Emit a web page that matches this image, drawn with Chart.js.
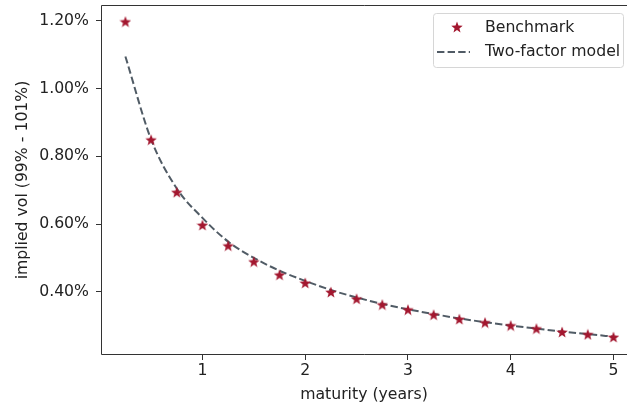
<!DOCTYPE html>
<html>
<head>
<meta charset="utf-8">
<script src="https://cdn.jsdelivr.net/npm/chart.js@4.4.1/dist/chart.umd.min.js"></script>
<style>
    html, body { margin: 0; padding: 0; background: #fff; overflow: hidden; }
    canvas { display: block; }
</style>
</head>
<body>
<canvas id="myChart" width="627" height="407"></canvas>
<script>
// datos (vol en %)
const maturities = [0.25, 0.5, 0.75, 1.0, 1.25, 1.5, 1.75, 2.0, 2.25, 2.5, 2.75, 3.0, 3.25, 3.5, 3.75, 4.0, 4.25, 4.5, 4.75, 5.0];
const benchmark = [1.198, 0.849, 0.694, 0.597, 0.536, 0.489, 0.450, 0.426, 0.399, 0.379, 0.362, 0.347, 0.332, 0.319, 0.309, 0.300, 0.291, 0.281, 0.274, 0.266];
const twoFactor = [1.095, 0.850, 0.705, 0.618, 0.548, 0.500, 0.462, 0.432, 0.405, 0.383, 0.364, 0.348, 0.334, 0.321, 0.310, 0.300, 0.291, 0.282, 0.275, 0.267];
const xTicks = [1, 2, 3, 4, 5];
const yTicks = [0.4, 0.6, 0.8, 1.0, 1.2];
const seriesLabels = ['Benchmark', 'Two-factor model'];

const starColor = '#a3172f';
const lineColor = 'rgba(36, 50, 62, 0.8)';
const fuente = 'DejaVu Sans';
const tam = 15.7;

// estrella rellena como en matplotlib
function hacerEstrella(size){
    const c = document.createElement('canvas');
    c.width = size; c.height = size;
    const g = c.getContext('2d');
    const cx = size / 2, cy = size / 2 + 0.6;
    const R = size / 2, r = R * 0.42;
    g.beginPath();
    for (let i = 0; i < 10; i++) {
        const rad = (i % 2 === 0) ? R : r;
        const a = -Math.PI / 2 + i * Math.PI / 5;
        const px = cx + rad * Math.cos(a), py = cy + rad * Math.sin(a);
        if (i === 0) g.moveTo(px, py); else g.lineTo(px, py);
    }
    g.closePath();
    g.fillStyle = starColor;
    g.fill();
    return c;
}
const estrella = hacerEstrella(12);

// ejes: arriba, izquierda, abajo (la derecha queda fuera del recorte)
const marco = {
    id: 'marco',
    afterDatasetsDraw(chart){
        const a = chart.chartArea, ctx = chart.ctx;
        ctx.save();
        ctx.strokeStyle = '#333';
        ctx.lineWidth = 1;
        ctx.beginPath();
        ctx.moveTo(chart.width, a.top + 0.5);
        ctx.lineTo(a.left + 0.5, a.top + 0.5);
        ctx.lineTo(a.left + 0.5, a.bottom - 0.5);
        ctx.lineTo(chart.width, a.bottom - 0.5);
        ctx.stroke();
        ctx.restore();
    }
};

const leyenda = {
    id: 'leyenda',
    afterDraw(chart){
        const ctx = chart.ctx;
        const x0 = 433.5, y0 = 13.5, w = 190, h = 54;
        ctx.save();
        ctx.beginPath();
        ctx.roundRect(x0, y0, w, h, 3);
        ctx.fillStyle = 'rgba(255,255,255,0.8)';
        ctx.fill();
        ctx.strokeStyle = '#d6d6d6';
        ctx.lineWidth = 1;
        ctx.stroke();
        ctx.drawImage(estrella, 457 - 6, 27 - 6);
        ctx.beginPath();
        ctx.setLineDash([7.4, 3.2]);
        ctx.strokeStyle = lineColor;
        ctx.lineWidth = 2;
        ctx.moveTo(437, 52);
        ctx.lineTo(470, 52);
        ctx.stroke();
        ctx.setLineDash([]);
        ctx.fillStyle = '#222';
        ctx.font = tam + 'px "' + fuente + '"';
        ctx.textBaseline = 'middle';
        ctx.fillText(chart.data.datasets[0].label, 485, 28);
        ctx.fillText(chart.data.datasets[1].label, 485, 52);
        ctx.restore();
    }
};

const ctx = document.getElementById('myChart').getContext('2d');
const myChart = new Chart(ctx, {
    type: 'line',
    data: {
        datasets: [{
            label: seriesLabels[0],
            data: maturities.map((m, i) => ({x: m, y: benchmark[i]})),
            showLine: false,
            pointStyle: estrella,
            pointRadius: 6,
            backgroundColor: starColor,
            borderColor: starColor,
            order: 0
        }, {
            label: seriesLabels[1],
            data: maturities.map((m, i) => ({x: m, y: twoFactor[i]})),
            borderColor: lineColor,
            borderWidth: 2,
            borderDash: [7.4, 3.2],
            pointRadius: 0,
            cubicInterpolationMode: 'monotone',
            fill: false,
            order: 1
        }]
    },
    options: {
        responsive: false,
        animation: false,
        layout: { autoPadding: false, padding: { left: 0, top: 5, right: 0, bottom: 0 } },
        plugins: { legend: { display: false }, tooltip: { enabled: false } },
        scales: {
            x: {
                type: 'linear',
                min: 0.0125,
                max: 5.1317,
                border: { display: false },
                grid: { drawOnChartArea: false, drawTicks: true, tickLength: 5, color: '#333' },
                afterBuildTicks: (axis) => { axis.ticks = xTicks.map(v => ({value: v})); },
                afterFit: (axis) => { axis.height = 52; axis.paddingLeft = 0; axis.paddingRight = 0; },
                ticks: {
                    color: '#222', padding: 2,
                    font: { family: fuente, size: tam },
                    maxRotation: 0,
                    callback: (v) => String(v)
                },
                title: {
                    display: true, text: 'maturity (years)', color: '#222',
                    font: { family: fuente, size: tam },
                    padding: { top: 0, bottom: 2.5 }
                }
            },
            y: {
                type: 'linear',
                min: 0.213,
                max: 1.247,
                border: { display: false },
                grid: { drawOnChartArea: false, drawTicks: true, tickLength: 5, color: '#333' },
                afterBuildTicks: (axis) => { axis.ticks = yTicks.map(v => ({value: v})); },
                afterFit: (axis) => { axis.width = 101; axis.paddingTop = 0; axis.paddingBottom = 0; },
                ticks: {
                    color: '#222', padding: 7,
                    font: { family: fuente, size: tam },
                    callback: (v) => v.toFixed(2) + '%'
                },
                title: {
                    display: true, text: 'implied vol (99% - 101%)', color: '#222',
                    font: { family: fuente, size: tam },
                    padding: { top: 13.5, bottom: 0 }
                }
            }
        }
    },
    plugins: [marco, leyenda]
});
</script>
</body>
</html>
